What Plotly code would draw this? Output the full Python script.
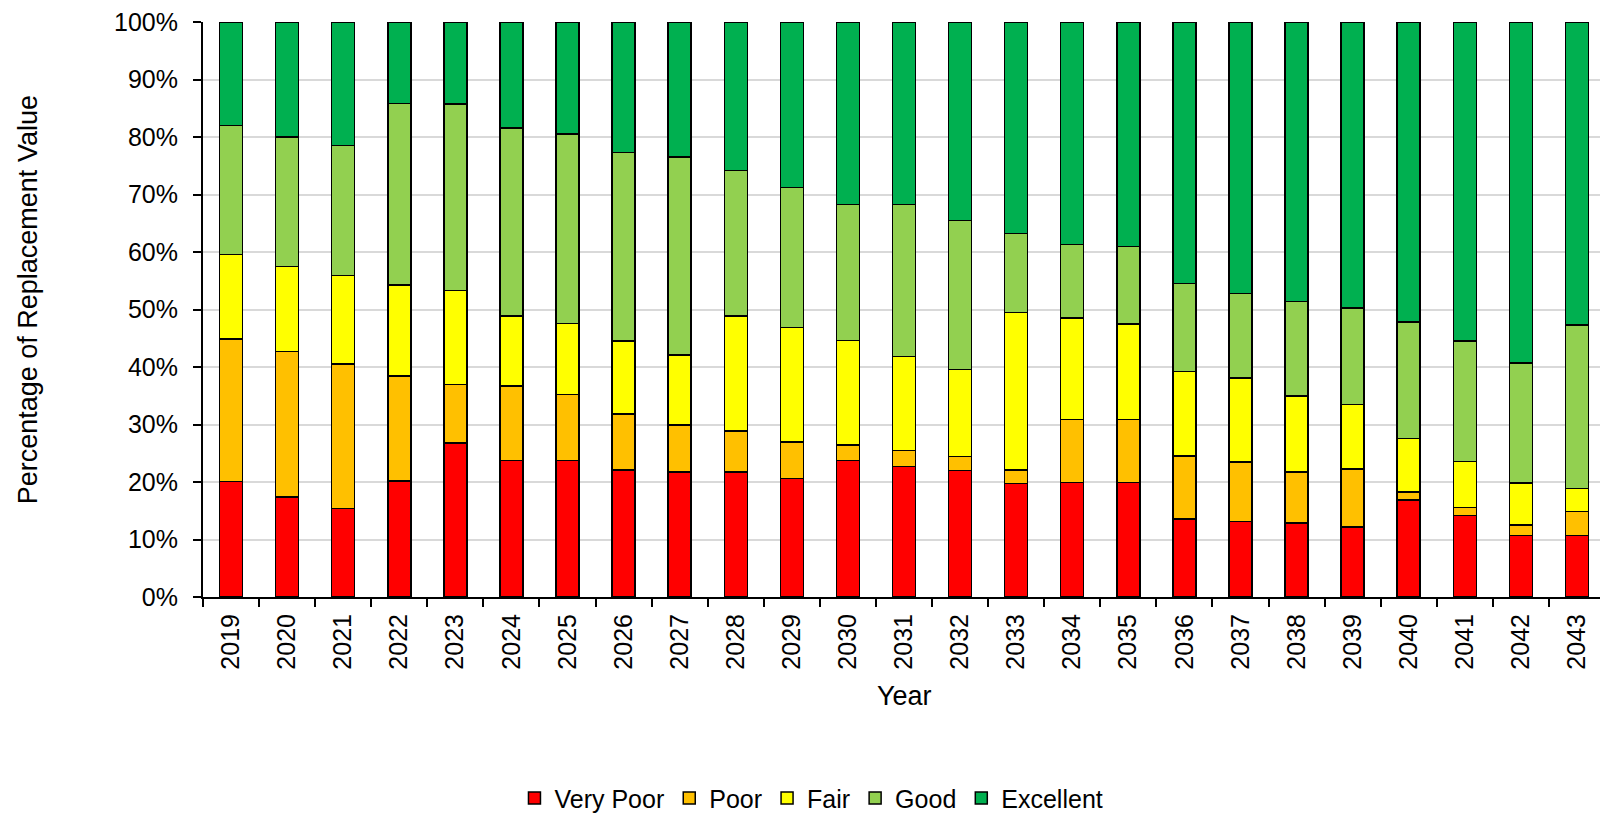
import plotly.graph_objects as go

years = [str(y) for y in range(2019, 2044)]

very_poor = [20.1, 17.4, 15.4, 20.2, 26.8, 23.7, 23.7, 22.1, 21.7, 21.7, 20.6, 23.7, 22.7,
             22.0, 19.7, 19.9, 19.9, 13.6, 13.1, 12.9, 12.2, 16.9, 14.2, 10.7, 10.7]
poor = [24.8, 25.3, 25.1, 18.2, 10.2, 13.0, 11.5, 9.7, 8.2, 7.2, 6.4, 2.7, 2.8,
        2.4, 2.4, 11.0, 11.0, 10.9, 10.4, 8.8, 10.1, 1.4, 1.4, 1.8, 4.2]
fair = [14.7, 14.8, 15.4, 15.9, 16.3, 12.2, 12.4, 12.7, 12.2, 20.0, 19.9, 18.2, 16.3,
        15.2, 27.4, 17.6, 16.6, 14.7, 14.6, 13.3, 11.2, 9.3, 8.0, 7.3, 4.0]
good = [22.4, 22.5, 22.6, 31.5, 32.4, 32.7, 32.9, 32.8, 34.4, 25.3, 24.3, 23.7, 26.5,
        25.9, 13.7, 12.8, 13.5, 15.3, 14.7, 16.4, 16.8, 20.2, 20.9, 20.9, 28.4]
excellent = [18.0, 20.0, 21.5, 14.2, 14.3, 18.4, 19.5, 22.7, 23.5, 25.8, 28.8, 31.7, 31.7,
             34.5, 36.8, 38.7, 39.0, 45.5, 47.2, 48.6, 49.7, 52.2, 55.5, 59.3, 52.7]

series = [
    ("Very Poor", very_poor, "#FF0000"),
    ("Poor", poor, "#FFC000"),
    ("Fair", fair, "#FFFF00"),
    ("Good", good, "#92D050"),
    ("Excellent", excellent, "#00B050"),
]

FONT = "Liberation Sans, Arial, sans-serif"

fig = go.Figure()
for name, vals, color in series:
    fig.add_trace(go.Bar(
        x=years, y=vals, name=name,
        marker=dict(color=color, line=dict(color="black", width=1.5)),
    ))

fig.update_layout(
    width=1600, height=806,
    barmode="stack", bargap=0.59,
    plot_bgcolor="white", paper_bgcolor="white",
    margin=dict(l=195, r=3, t=14, b=217, autoexpand=False),
    font=dict(family=FONT, size=25, color="#000000"),
    showlegend=True,
    legend=dict(orientation="h", x=0.434, xanchor="center", y=-0.35, yanchor="middle",
                font=dict(size=25), itemwidth=30, tracegroupgap=0, traceorder="normal",
                bgcolor="rgba(0,0,0,0)"),
    annotations=[
        dict(text="Year", xref="paper", yref="paper", x=0.5, y=-0.173, xanchor="center",
             yanchor="middle", showarrow=False, font=dict(size=27)),
        dict(text="Percentage of Replacement Value", xref="paper", yref="paper",
             x=-0.1248, y=0.516, xanchor="center", yanchor="middle", textangle=-90,
             showarrow=False, font=dict(size=27)),
    ],
)

fig.update_xaxes(
    type="category", showline=True, linecolor="black", linewidth=2,
    ticks="outside", tickson="boundaries", ticklen=8, tickwidth=2, tickcolor="black",
    tickangle=-90, showgrid=False, automargin=False, ticklabelstandoff=5,
)
fig.update_yaxes(
    range=[0, 100], dtick=10, ticksuffix="%", showline=True, linecolor="black", linewidth=2,
    ticks="outside", ticklen=8, tickwidth=2, tickcolor="black", ticklabeloverflow="allow",
    ticklabelstandoff=10,
    showgrid=True, gridcolor="#D9D9D9", gridwidth=1.5, zeroline=False, automargin=False,
)

fig.write_html("out.html")
